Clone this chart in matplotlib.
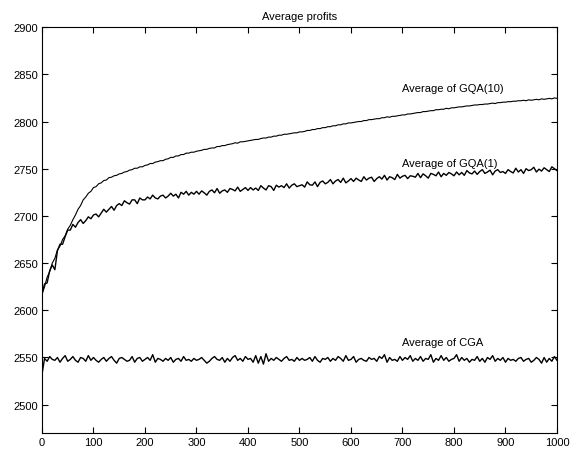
import numpy as np
import matplotlib
matplotlib.use("Agg")
import matplotlib.pyplot as plt

plt.rcParams["font.family"] = ["Liberation Sans", "DejaVu Sans"]

# generations, sampled every 5
GEN_STEP = 5

GQA10 = [
    2617, 2625, 2635, 2641, 2650, 2655, 2664, 2668, 2675, 2679, 2686, 2690, 2696, 2701, 2707, 2711, 2717, 2720, 2724, 2726, 2730,
    2731, 2734, 2735, 2737.5, 2738, 2740.5, 2741, 2742.5, 2743, 2744.5, 2745, 2746.5, 2747, 2748.5, 2749, 2750.5, 2750.5, 2752, 2752, 2753.5,
    2754, 2755.5, 2755.5, 2757, 2757.5, 2758.5, 2758.5, 2760, 2760.5, 2762, 2762, 2763.5, 2763.5, 2765, 2765, 2766.5, 2766.5, 2767.5, 2767.5, 2768.5,
    2769, 2769.5, 2770.5, 2770.5, 2771.5, 2772, 2772, 2773.5, 2773.5, 2774.5, 2774.5, 2775.5, 2776, 2776.5, 2777.5, 2777, 2778.5, 2778.5, 2779, 2779.5,
    2780, 2780.5, 2781, 2781, 2782, 2782.5, 2782.5, 2783.5, 2783.5, 2784.5, 2784.5, 2785.5, 2785.5, 2786.5, 2786.5, 2787, 2787.5, 2788, 2788, 2789,
    2789, 2789.5, 2790.5, 2790.5, 2791.5, 2791.5, 2792.5, 2792.5, 2793.5, 2793.5, 2794.5, 2794.5, 2795.5, 2795.5, 2796.5, 2796.5, 2797.5, 2797.5, 2798.5, 2798.5,
    2799, 2799.5, 2800, 2800, 2801, 2801, 2802, 2802, 2802.5, 2803, 2803, 2804, 2804, 2805, 2804.5, 2805.5, 2805.5, 2806, 2806.5, 2807,
    2807, 2808, 2808, 2808.5, 2809, 2809.5, 2809.5, 2810.5, 2810.5, 2811, 2811.5, 2811.5, 2812.5, 2812.5, 2813, 2813, 2814, 2813.5, 2814.5, 2814.5,
    2815, 2815.5, 2815.5, 2816, 2816.5, 2816.5, 2817, 2817.5, 2817.5, 2818, 2818, 2818.5, 2818.5, 2819, 2819.5, 2819, 2820, 2820, 2820.5, 2820.5,
    2821, 2821, 2821.5, 2821.5, 2822, 2822, 2822.5, 2822, 2823, 2822.5, 2823, 2823.5, 2823, 2824, 2823.5, 2824, 2824.5, 2824, 2825, 2824.5,
]

GQA1 = [
    2617, 2628, 2629, 2642, 2648, 2643, 2663, 2670, 2670, 2678, 2685, 2685, 2691, 2688, 2693, 2696, 2692, 2695, 2699, 2697, 2701,
    2702, 2699, 2703, 2707, 2704, 2707, 2710, 2706, 2711, 2713, 2711, 2716, 2714, 2712.5, 2717, 2717, 2713, 2719, 2717, 2717,
    2720, 2718, 2722, 2719, 2718, 2721, 2722, 2719, 2721, 2724, 2721, 2723, 2719, 2725, 2723, 2726, 2722, 2725, 2723, 2726,
    2723, 2726.5, 2724.5, 2722, 2726, 2727.5, 2724.5, 2729, 2724, 2726.5, 2727.5, 2725, 2729, 2728, 2726.5, 2730.5, 2726, 2728, 2730, 2727,
    2730, 2727.5, 2729.5, 2727, 2732, 2729.5, 2727.5, 2732, 2731, 2727, 2732.5, 2730.5, 2732, 2730, 2734, 2729.5, 2732.5, 2734, 2731, 2732,
    2733, 2730.5, 2736, 2733, 2732.5, 2736, 2731, 2735.5, 2737, 2734, 2735.5, 2738.5, 2734, 2737, 2738.5, 2735.5, 2740, 2735, 2737, 2739.5,
    2736.5, 2740, 2738, 2736.5, 2741.5, 2738, 2740, 2741, 2736.5, 2739.5, 2741.5, 2739, 2743, 2738, 2741.5, 2740.5, 2738.5, 2744, 2740, 2742,
    2743, 2739.5, 2742.5, 2742, 2741, 2745, 2740.5, 2744.5, 2742.5, 2740, 2745, 2744, 2742.5, 2746.5, 2741.5, 2745, 2743, 2746, 2744.5, 2742.5,
    2746.5, 2743.5, 2746, 2743, 2748, 2745.5, 2744.5, 2747.5, 2744, 2747, 2749, 2745, 2746.5, 2748.5, 2743.5, 2747.5, 2749, 2746, 2747, 2745,
    2749, 2747, 2745.5, 2750.5, 2746.5, 2749, 2745, 2750, 2748, 2749, 2751.5, 2746.5, 2749.5, 2747.5, 2751, 2749, 2747, 2752, 2750, 2748,
]

CGA = [
    2532, 2549, 2546, 2551, 2548, 2547, 2550, 2545, 2549, 2552, 2546, 2548, 2551, 2547, 2545, 2550, 2549, 2546, 2552, 2547, 2550,
    2547, 2545, 2548, 2550, 2546, 2549, 2551, 2547, 2544, 2549, 2550, 2548, 2546, 2547, 2551, 2545, 2549, 2550, 2546, 2548,
    2550, 2547, 2553, 2545, 2549, 2548, 2546, 2549, 2547, 2550, 2545, 2548, 2549, 2546, 2551, 2547, 2548, 2546, 2549, 2547,
    2548, 2550, 2547, 2544, 2546, 2549, 2551, 2548, 2547, 2550, 2545, 2549, 2546, 2550, 2552, 2547, 2549, 2546, 2551, 2548,
    2549, 2545, 2552, 2544, 2551, 2543, 2554, 2546, 2549, 2547, 2550, 2548, 2546, 2549, 2551, 2547, 2548, 2546, 2550, 2547,
    2549, 2547, 2548, 2550, 2546, 2551, 2547, 2545, 2549, 2548, 2550, 2546, 2549, 2547, 2551, 2549, 2546, 2552, 2547, 2548,
    2551, 2545, 2548, 2549, 2547, 2546, 2550, 2548, 2549, 2546, 2551, 2549, 2553, 2545, 2550, 2547, 2548, 2546, 2551, 2547,
    2550, 2548, 2552, 2546, 2549, 2547, 2551, 2546, 2549, 2548, 2553, 2545, 2549, 2547, 2552, 2547, 2550, 2546, 2548, 2549,
    2553, 2546, 2550, 2547, 2549, 2545, 2548, 2547, 2551, 2546, 2549, 2545, 2550, 2548, 2552, 2546, 2549, 2547, 2550, 2545,
    2549, 2547, 2548, 2546, 2549, 2550, 2546, 2548, 2549, 2545, 2547, 2550, 2548, 2544, 2550, 2545, 2549, 2546, 2551, 2547,
]

LABELS = [("Average of GQA(10)", 700, 2836),
          ("Average of GQA(1)", 700, 2756),
          ("Average of CGA", 700, 2566)]

XTICKS = list(range(0, 1001, 100))
YTICKS = list(range(2500, 2901, 50))

FS = 8

fig = plt.figure(figsize=(5.79, 4.52), dpi=100)
ax = fig.add_axes([0.0725, 0.0398, 0.8895, 0.898])

# the noisier runs look heavier in the original
for series, lw in ((GQA10, 0.8), (GQA1, 1.0), (CGA, 1.0)):
    x = np.arange(len(series)) * GEN_STEP
    ax.plot(x, series, color="black", lw=lw)

for text, tx, ty in LABELS:
    ax.text(tx, ty, text, fontsize=FS, ha="left", va="center")

ax.set_xlim(0, 1000)
ax.set_ylim(2470, 2900)
ax.set_xticks(XTICKS)
ax.set_yticks(YTICKS)
ax.tick_params(direction="in", top=True, right=True, length=4, width=0.8,
               labelsize=FS, pad=3)
for sp in ax.spines.values():
    sp.set_linewidth(0.8)
ax.set_title("Average profits", fontsize=FS, pad=6)

fig.savefig("out.png", dpi=100)
